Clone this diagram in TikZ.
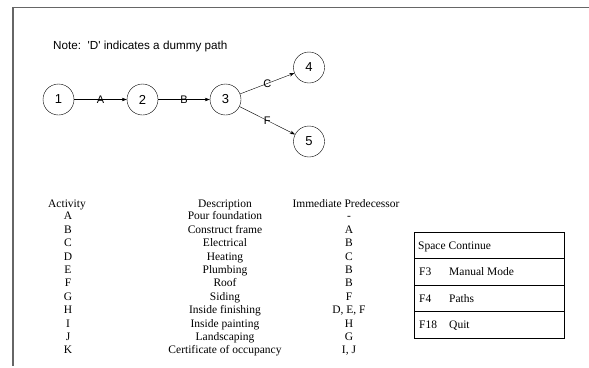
\documentclass[tikz,border=0pt]{standalone}
\usepackage{fontspec}
\setmainfont{Liberation Serif}
\newfontfamily\arialfont{Liberation Sans}
\usetikzlibrary{arrows.meta}
\begin{document}
\begin{tikzpicture}[x=1pt, y=-1pt, >={Stealth[length=5pt,width=3.5pt]}, thin,
  main node/.style={circle,draw,minimum size=31pt,inner sep=0pt,font=\arialfont\fontsize{13}{15}\selectfont},
  arc label/.style={font=\arialfont\fontsize{11}{13}\selectfont,inner sep=0pt},
  cell/.style={anchor=base,inner sep=0pt,font=\fontsize{11.5}{13}\selectfont},
  keycell/.style={cell,anchor=base west},
  keybox/.style={rectangle,draw,line width=0.9pt,minimum width=150pt,minimum height=26.5pt,inner sep=0pt}]
\useasboundingbox (0,0) rectangle (589,367);
% frame
\draw[line width=1.6pt, black!60] (589,7.5) -- (13,7.5) -- (13,366);
\node[anchor=base west, inner sep=0pt, font=\arialfont\fontsize{11.7}{14}\selectfont] (note) at (53,49) {Note:\ \ 'D' indicates a dummy path};
\begin{scope}
\node[main node] (n1) at (58.5,99.5) {1};
\node[main node] (n2) at (142.5,99.5) {2};
\node[main node] (n3) at (225.5,99.5) {3};
\node[main node] (n4) at (309,67.5) {4};
\node[main node] (n5) at (309,141.5) {5};
\end{scope}
\begin{scope}
\draw[->] (n1) edge node[arc label]{A} (n2);
\draw[->] (n2) edge node[arc label]{B} (n3);
\draw[->] (n3) edge node[arc label]{C} (n4);
\draw[->] (n3) edge node[arc label]{F} (n5);
\end{scope}
% activity table
\node[cell] (act) at (67,207) {Activity};
\node[cell] (desc) at (225,207) {Description};
\node[cell] (pred) at (346,207) {Immediate Predecessor};
\foreach \act/\desc/\pred [count=\i] in {A/Pour foundation/-, B/Construct frame/A, C/Electrical/B, D/Heating/C, E/Plumbing/B, F/Roof/B, G/Siding/F, H/Inside finishing/{D, E, F}, I/Inside painting/H, J/Landscaping/G, K/Certificate of occupancy/{I, J}}{
  \node[cell] (act\i) at (68,206.4+13.4*\i) {\act};
  \node[cell] (desc\i) at (225,206.4+13.4*\i) {\desc};
  \node[cell] (pred\i) at (349,206.4+13.4*\i) {\pred};
}
% key box
\node[keybox] (row1) at (489,245.25) {};
\node[keybox] (row2) at (489,271.75) {};
\node[keybox] (row3) at (489,298.25) {};
\node[keybox] (row4) at (489,324.75) {};
\node[keycell] (key1) at (418,249) {Space};
\node[keycell] (cmd1) at (448.5,249) {Continue};
\node[keycell] (key2) at (419,275.5) {F3};
\node[keycell] (cmd2) at (449,275.5) {Manual Mode};
\node[keycell] (key3) at (419,302) {F4};
\node[keycell] (cmd3) at (449,302) {Paths};
\node[keycell] (key4) at (419,328.5) {F18};
\node[keycell] (cmd4) at (449,328.5) {Quit};
\end{tikzpicture}
\end{document}
